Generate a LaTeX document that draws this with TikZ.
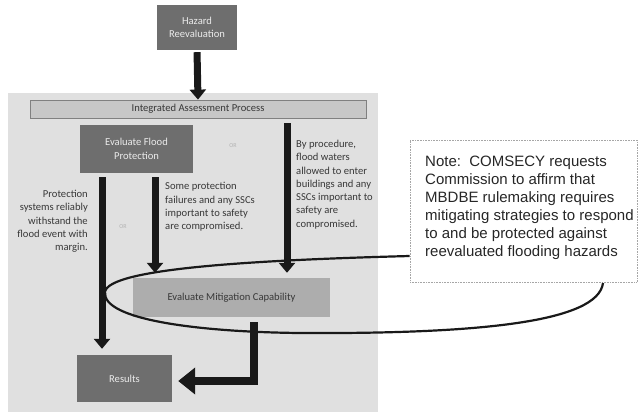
\documentclass[tikz,border=0pt]{standalone}
\usepackage{fontspec}
\setmainfont{Carlito}
\newfontfamily\notefont{Liberation Sans}
\usetikzlibrary{arrows.meta}
\definecolor{panelc}{gray}{0.88}
\definecolor{darkc}{gray}{0.43}
\definecolor{midc}{gray}{0.68}
\definecolor{barc}{gray}{0.78}
\definecolor{barline}{gray}{0.5}
\definecolor{labc}{gray}{0.22}
\definecolor{arrc}{gray}{0.1}
\begin{document}
\begin{tikzpicture}[x=1pt,y=-1pt,
  txt/.style={font=\fontsize{10.6}{13.3}\selectfont, text=labc, inner sep=0pt},
  darkbox/.style={fill=darkc, draw=none, text=white!92!black, align=center, inner sep=0pt,
    font=\fontsize{10.6}{13.3}\selectfont},
  midbox/.style={fill=midc, draw=none, text=labc, align=center, inner sep=0pt,
    font=\fontsize{10.6}{13.3}\selectfont},
  downarrow/.style={draw=arrc, line width=7pt, -{Triangle[width=16pt,length=10pt]}},
  bigarrow/.style={draw=arrc, line width=8pt, line join=miter, -{Triangle[width=26pt,length=17pt]}},
  callout/.style={draw=arrc, line width=2.2pt},
  faint/.style={font=\fontsize{6}{7}\selectfont, text=gray!60, inner sep=0pt}
]
\useasboundingbox (0,0) rectangle (639,415);
% panel
\fill[panelc] (8,93) rectangle (378,412);
% boxes
\node[darkbox, minimum width=80pt, minimum height=45pt] (haz) at (197,27.5) {Hazard\\Reevaluation};
\node[fill=barc, draw=barline, line width=0.8pt, minimum width=336pt, minimum height=18pt, inner sep=0pt,
  font=\fontsize{10.6}{13.3}\selectfont, text=labc] (iap) at (198,109) {Integrated Assessment Process};
\node[darkbox, minimum width=113pt, minimum height=48pt] (efp) at (136.5,149) {Evaluate Flood\\Protection};
\node[midbox, minimum width=197pt, minimum height=39pt] (emc) at (231.5,297.5) {Evaluate Mitigation Capability};
\node[darkbox, minimum width=95pt, minimum height=47pt] (res) at (124.5,378.5) {Results};
% labels
\node[txt, anchor=east, align=right] (l1) at (88,221.5) {Protection\\systems reliably\\withstand the\\flood event with\\margin.};
\node[txt, anchor=west, align=left] (l2) at (165,207) {Some protection\\failures and any SSCs\\important to safety\\are compromised.};
\node[txt, anchor=west, align=left] (l3) at (296,184.5) {By procedure,\\flood waters\\allowed to enter\\buildings and any\\SSCs important to\\safety are\\compromised.};
\node[faint] (or1) at (123,227) {OR};
\node[faint] (or2) at (233,146) {OR};
% arrows
\draw[downarrow, shorten <=2pt] (haz.south) -- (iap.north);
\draw[downarrow, shorten <=4pt, shorten >=6pt] (efp.south -| 102,0) -- (res.north -| 102,0);
\draw[downarrow, shorten <=4pt, shorten >=5pt] (efp.south -| 155,0) -- (emc.north -| 155,0);
\draw[downarrow, shorten <=5pt, shorten >=5pt] (iap.south -| 287,0) -- (emc.north -| 287,0);
\coordinate (bend) at (254,381);
\draw[bigarrow, shorten >=6pt] (emc.south -| 254,0) ++(0,5) -- (bend) -- (bend -| res.east);
% note
\node[draw=gray!70, densely dotted, line width=0.6pt, minimum width=227pt, minimum height=142pt,
  inner sep=0pt] (notebox) at (523.5,211) {};
\node[font=\notefont\fontsize{15}{18}\selectfont, text=black!85, align=left, anchor=west, inner sep=0pt]
  (note) at (425,208) {Note:\ \ COMSECY requests\\Commission to affirm that\\MBDBE rulemaking requires\\mitigating strategies to respond\\to and be protected against\\reevaluated flooding hazards};
% callout loop
\coordinate (cA) at (notebox.west |- 0,256);
\coordinate (cL) at (105,292);
\coordinate (cM) at (300,333);
\coordinate (cB) at (603,283);
\draw[callout] (cA) .. controls (260,260) and (108,268) .. (cL)
  .. controls (102,320) and (200,332) .. (cM)
  .. controls (480,334) and (598,322) .. (cB);
\end{tikzpicture}
\end{document}
